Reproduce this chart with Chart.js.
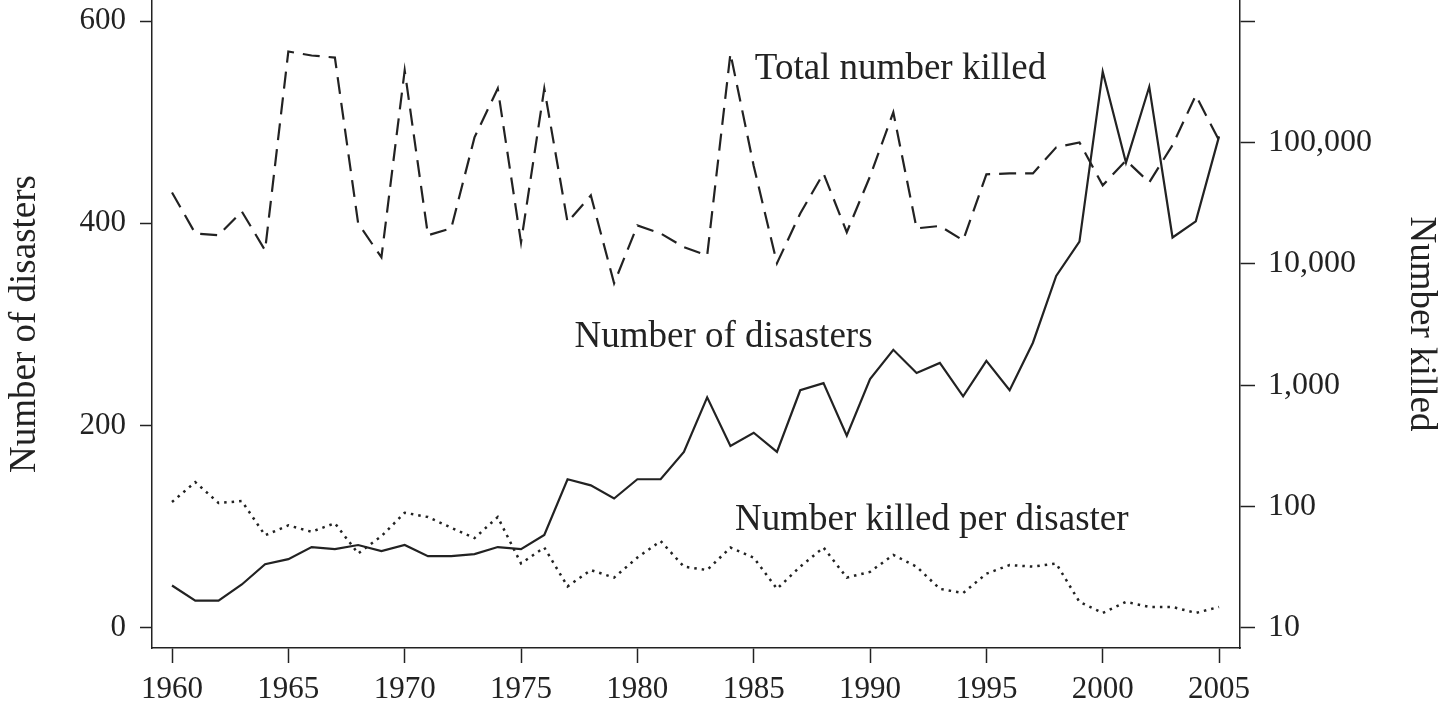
<!DOCTYPE html>
<html>
<head>
<meta charset="utf-8">
<title>Disasters and deaths, 1960–2005</title>
<script src="https://cdn.jsdelivr.net/npm/chart.js@4.4.1/dist/chart.umd.min.js"></script>
<style>
  html, body { margin: 0; padding: 0; background: #fff; }
  #wrap { width: 1447px; height: 706px; position: relative; }
</style>
</head>
<body>
<div id="wrap"><canvas id="chart-disasters"></canvas></div>
<script>
// Annual series, 1960–2005
const years = [
  1960, 1961, 1962, 1963, 1964, 1965, 1966, 1967, 1968, 1969,
  1970, 1971, 1972, 1973, 1974, 1975, 1976, 1977, 1978, 1979,
  1980, 1981, 1982, 1983, 1984, 1985, 1986, 1987, 1988, 1989,
  1990, 1991, 1992, 1993, 1994, 1995, 1996, 1997, 1998, 1999,
  2000, 2001, 2002, 2003, 2004, 2005,
];

// left axis
const disasters = [
  42, 27, 27, 43, 63, 68, 80, 78, 82, 76,
  82, 71, 71, 73, 80, 78, 92, 147, 141, 128,
  147, 147, 174, 228, 180, 193, 174, 235, 242, 190,
  246, 275, 252, 262, 229, 264, 235, 282, 348, 382,
  550, 460, 535, 386, 402, 486,
];

// right (log) axis
const totalKilled = [
  38700, 17800, 17200, 27000, 12900, 561000, 520000, 500000, 21500, 11300,
  392000, 17200, 19600, 110000, 278000, 15000, 278000, 22000, 36600, 6900,
  20700, 17800, 13700, 11700, 541000, 64000, 10100, 26000, 55600, 18200,
  52500, 177000, 19600, 20500, 15600, 54600, 55600, 55600, 91000, 100000,
  44300, 71100, 46900, 95000, 244000, 104000,
];

const killedPerDisaster = [
  109, 159, 107, 111, 58, 70, 62, 73, 41, 57,
  89, 82, 67, 55, 82, 34, 46, 22, 30, 26,
  38, 52, 32, 30, 46, 38, 21, 32, 46, 26,
  29, 40, 32, 21, 19.4, 28, 33, 32, 34, 16.4,
  13.3, 16.4, 14.9, 14.9, 13.3, 14.9,
];

const xTicks = [1960, 1965, 1970, 1975, 1980, 1985, 1990, 1995, 2000, 2005];
const leftTicks = [0, 200, 400, 600];
const rightTicks = [10, 100, 1000, 10000, 100000, 1000000];

// in-plot series labels: [text, year, left-axis value]
const seriesLabels = [
  ['Total number killed', 1985.05, 552],
  ['Number of disasters', 1977.3, 287],
  ['Number killed per disaster', 1984.2, 106],
];

const INK = '#222';
const SERIF = '"Liberation Serif", "Times New Roman", serif';

const points = (vals) => years.map((yr, i) => ({ x: yr, y: vals[i] }));

const seriesText = {
  id: 'seriesText',
  afterDatasetsDraw(chart) {
    const { ctx, scales } = chart;
    ctx.save();
    ctx.fillStyle = INK;
    ctx.font = `37px ${SERIF}`;
    ctx.textAlign = 'left';
    ctx.textBaseline = 'middle';
    seriesLabels.forEach(([txt, yr, v]) => {
      ctx.fillText(txt, scales.x.getPixelForValue(yr), scales.y.getPixelForValue(v));
    });
    ctx.restore();
  },
};

const axisStyle = (tickLength) => ({
  grid: { drawOnChartArea: false, drawTicks: true, tickLength, tickColor: INK, tickWidth: 1.5 },
  border: { display: true, color: INK, width: 1.5 },
});

// fixed box sizes so the plot area runs to the top edge
const fitBox = (w, h) => (s) => {
  if (w) s.width = w;
  if (h) s.height = h;
  s.paddingTop = 0;
  s.paddingBottom = 0;
  s.paddingLeft = 0;
  s.paddingRight = 0;
};

new Chart(document.getElementById('chart-disasters'), {
  type: 'line',
  data: {
    datasets: [
      {
        label: 'Total number killed',
        data: points(totalKilled),
        yAxisID: 'yKilled',
        borderColor: INK,
        borderWidth: 2.2,
        borderDash: [17, 9],
      },
      {
        label: 'Number of disasters',
        data: points(disasters),
        yAxisID: 'y',
        borderColor: INK,
        borderWidth: 2.2,
      },
      {
        label: 'Number killed per disaster',
        data: points(killedPerDisaster),
        yAxisID: 'yKilled',
        borderColor: INK,
        borderWidth: 2.5,
        borderDash: [2.5, 5],
      },
    ],
  },
  options: {
    responsive: true,
    maintainAspectRatio: false,
    animation: false,
    layout: { padding: 0 },
    elements: { point: { radius: 0 }, line: { tension: 0, fill: false } },
    plugins: { legend: { display: false }, tooltip: { enabled: false } },
    scales: {
      x: {
        type: 'linear',
        min: 1959.14,
        max: 2005.9,
        ...axisStyle(15),
        afterBuildTicks: (s) => { s.ticks = xTicks.map((v) => ({ value: v })); },
        afterFit: fitBox(0, 58),
        ticks: {
          color: INK,
          padding: 8,
          font: { family: SERIF, size: 31 },
          callback: (v) => String(v),
        },
      },
      y: {
        type: 'linear',
        position: 'left',
        min: -19.8,
        max: 620.8,
        ...axisStyle(12),
        afterBuildTicks: (s) => { s.ticks = leftTicks.map((v) => ({ value: v })); },
        afterFit: fitBox(152, 0),
        ticks: {
          color: INK,
          padding: 14,
          font: { family: SERIF, size: 31 },
          callback: (v) => String(v),
        },
        title: {
          display: true,
          text: 'Number of disasters',
          color: INK,
          padding: { top: 3, bottom: 0 },
          font: { family: SERIF, size: 37 },
        },
      },
      yKilled: {
        type: 'logarithmic',
        position: 'right',
        min: 6.84,
        max: 1.49e6,
        ...axisStyle(15),
        afterBuildTicks: (s) => { s.ticks = rightTicks.map((v) => ({ value: v })); },
        afterFit: fitBox(207, 0),
        ticks: {
          color: INK,
          padding: 13,
          font: { family: SERIF, size: 32 },
          callback: (v) => (v >= 1000000 ? '' : Number(v).toLocaleString('en-US')),
        },
        title: {
          display: true,
          text: 'Number killed',
          color: INK,
          padding: { top: 4, bottom: 0 },
          font: { family: SERIF, size: 37 },
        },
      },
    },
  },
  plugins: [seriesText],
});
</script>
</body>
</html>
